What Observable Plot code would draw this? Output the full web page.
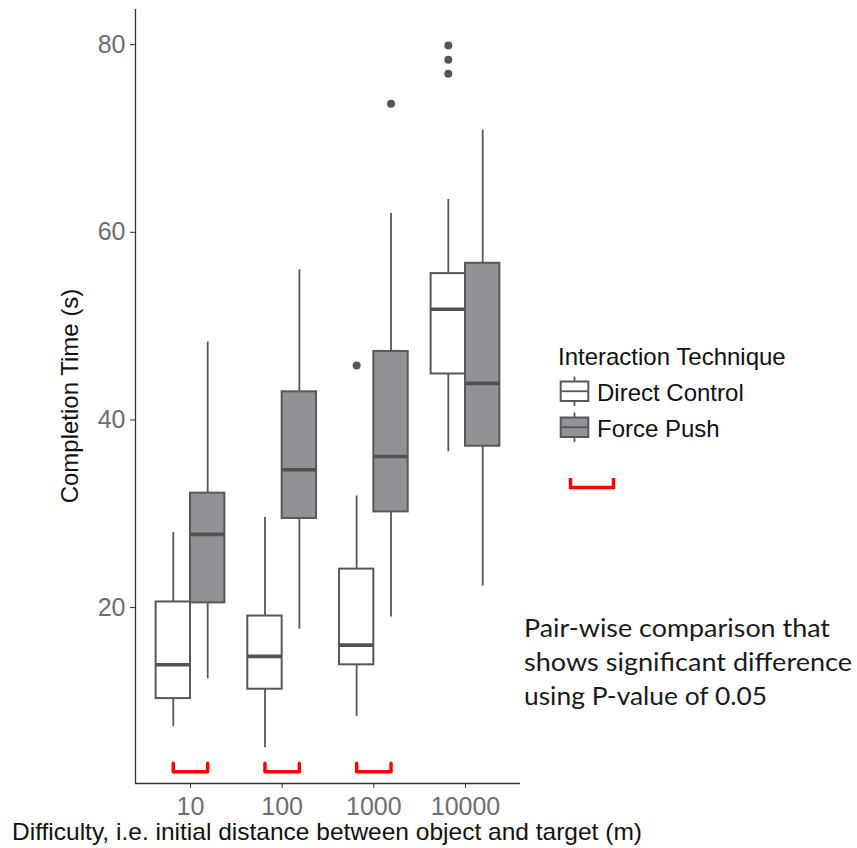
<!DOCTYPE html>
<html>
<head>
<meta charset="utf-8">
<script src="https://cdn.jsdelivr.net/npm/d3@7"></script>
<script src="https://cdn.jsdelivr.net/npm/@observablehq/plot@0.6"></script>
<style>
  html, body { margin: 0; padding: 0; background: #fff; }
  #wrap { position: relative; width: 857px; height: 848px; font-family: "Liberation Sans", Arial, sans-serif; }
  #chart svg text { fill: #6e6e6e; }
  #overlay { position: absolute; left: 0; top: 0; pointer-events: none; }
</style>
</head>
<body>
<div id="wrap">
  <div id="chart"></div>
  <svg id="overlay" width="857" height="848"></svg>
</div>
<script>
// ---- data ----
const categories = ["10", "100", "1000", "10000"];
const techniques = ["Direct Control", "Force Push"];

const dcLow  = [7.3, 5.05, 8.4, 36.6];
const dcQ1   = [10.3, 11.3, 13.9, 44.9];
const dcMed  = [13.9, 14.8, 16.0, 51.8];
const dcQ3   = [20.6, 19.1, 24.1, 55.6];
const dcHigh = [28.0, 29.6, 31.9, 63.5];

const fpLow  = [12.4, 17.7, 19.0, 22.3];
const fpQ1   = [20.5, 29.5, 30.2, 37.2];
const fpMed  = [27.8, 34.7, 36.1, 43.9];
const fpQ3   = [32.2, 43.0, 47.3, 56.7];
const fpHigh = [48.3, 56.0, 62.0, 70.9];

const outlierCat   = ["1000", "1000", "10000", "10000", "10000"];
const outlierTech  = ["Direct Control", "Force Push", "Direct Control", "Direct Control", "Direct Control"];
const outlierValue = [45.8, 73.7, 79.9, 78.4, 76.9];

const significantCats = ["10", "100", "1000"];

const yTicks = [20, 40, 60, 80];
const yDomain = [1.25, 83.75];

// ---- build tables ----
const half = 0.1875; // dodge width 0.75 / 2 boxes
const techOffset = t => (t === techniques[0] ? -half : half);
const catIndex = c => categories.indexOf(c);

const rows = categories.flatMap((c, i) => [
  {cat: c, tech: techniques[0], low: dcLow[i], q1: dcQ1[i], med: dcMed[i], q3: dcQ3[i], high: dcHigh[i]},
  {cat: c, tech: techniques[1], low: fpLow[i], q1: fpQ1[i], med: fpMed[i], q3: fpQ3[i], high: fpHigh[i]}
]).map(d => ({...d, xc: catIndex(d.cat) + techOffset(d.tech)}));

const outliers = outlierValue.map((v, i) => ({cat: outlierCat[i], tech: outlierTech[i], v,
  xc: catIndex(outlierCat[i]) + techOffset(outlierTech[i])}));

const bracketTop = 3.4, bracketBottom = 2.5;
const brackets = significantCats.flatMap(c => {
  const i = catIndex(c);
  return [
    {cat: c, x: i - half, y: bracketTop},
    {cat: c, x: i - half, y: bracketBottom},
    {cat: c, x: i + half, y: bracketBottom},
    {cat: c, x: i + half, y: bracketTop}
  ];
});

const boxStroke = "#585858";
const fillColor = d => (d.tech === techniques[0] ? "#ffffff" : "#929296");

const plot = Plot.plot({
  width: 857,
  height: 848,
  marginLeft: 135,
  marginRight: 337,
  marginTop: 9,
  marginBottom: 65,
  style: {fontSize: "25px", fontFamily: "Liberation Sans, Arial, sans-serif", color: "#333", background: "#fff"},
  x: {domain: [-0.6, categories.length - 0.4], ticks: categories.map((c, i) => i), tickFormat: i => categories[i],
      tickSize: 5, tickPadding: 9, label: null},
  y: {domain: yDomain, ticks: yTicks, tickSize: 5, tickPadding: 5, label: null},
  marks: [
    Plot.ruleX(rows, {x: "xc", y1: "low", y2: "q1", stroke: boxStroke, strokeWidth: 1.8}),
    Plot.ruleX(rows, {x: "xc", y1: "q3", y2: "high", stroke: boxStroke, strokeWidth: 1.8}),
    Plot.rect(rows, {x1: d => d.xc - half, x2: d => d.xc + half, y1: "q1", y2: "q3",
      fill: fillColor, stroke: boxStroke, strokeWidth: 2}),
    Plot.ruleY(rows, {y: "med", x1: d => d.xc - half, x2: d => d.xc + half, stroke: "#525252", strokeWidth: 3.6}),
    Plot.dot(outliers, {x: "xc", y: "v", r: 4, fill: "#555", stroke: null}),
    Plot.line(brackets, {x: "x", y: "y", z: "cat", stroke: "#ff0000", strokeWidth: 3.5, curve: "linear"}),
    Plot.ruleX([-0.6], {stroke: "#333", strokeWidth: 1.3}),
    Plot.ruleY([yDomain[0]], {stroke: "#333", strokeWidth: 1.3})
  ]
});
document.getElementById("chart").appendChild(plot);

// ---- titles, legend and annotation (real text) ----
const ov = d3.select("#overlay");
const font = "Liberation Sans, Arial, sans-serif";

ov.append("text")
  .attr("transform", "translate(78,396) rotate(-90)")
  .attr("text-anchor", "middle")
  .attr("font-family", font).attr("font-size", 24).attr("fill", "#111")
  .text("Completion Time (s)");

ov.append("text")
  .attr("x", 12).attr("y", 840)
  .attr("font-family", font).attr("font-size", 24).attr("fill", "#111")
  .attr("textLength", 630).attr("lengthAdjust", "spacingAndGlyphs")
  .text("Difficulty, i.e. initial distance between object and target (m)");

// legend
ov.append("text").attr("x", 558).attr("y", 365)
  .attr("font-family", font).attr("font-size", 24).attr("fill", "#111")
  .text("Interaction Technique");

const keyTops = [381.5, 417.5];
techniques.forEach((t, k) => {
  const top = keyTops[k];
  const g = ov.append("g");
  g.append("line").attr("x1", 574.5).attr("x2", 574.5).attr("y1", top - 5).attr("y2", top + 24.5)
    .attr("stroke", boxStroke).attr("stroke-width", 1.8);
  g.append("rect").attr("x", 560.7).attr("y", top).attr("width", 27.6).attr("height", 19.5)
    .attr("fill", fillColor({tech: t})).attr("stroke", boxStroke).attr("stroke-width", 2);
  g.append("line").attr("x1", 560.7).attr("x2", 588.3).attr("y1", top + 9.75).attr("y2", top + 9.75)
    .attr("stroke", boxStroke).attr("stroke-width", 1.8);
  ov.append("text").attr("x", 597).attr("y", top + 19)
    .attr("font-family", font).attr("font-size", 24).attr("fill", "#111")
    .text(t);
});

ov.append("path").attr("d", "M570.5,478 V487.5 H613.5 V478")
  .attr("fill", "none").attr("stroke", "#ff0000").attr("stroke-width", 3.5);

const noteLines = ["Pair-wise comparison that", "shows significant difference", "using P-value of 0.05"];
const noteWidths = [306, 328, 243];
noteLines.forEach((s, i) => {
  ov.append("text").attr("x", 524).attr("y", 637 + i * 34)
    .attr("font-family", "Lato, 'Open Sans', sans-serif").attr("font-size", 25.5).attr("fill", "#1a1a1a")
    .attr("textLength", noteWidths[i]).attr("lengthAdjust", "spacingAndGlyphs")
    .text(s);
});
</script>
</body>
</html>
